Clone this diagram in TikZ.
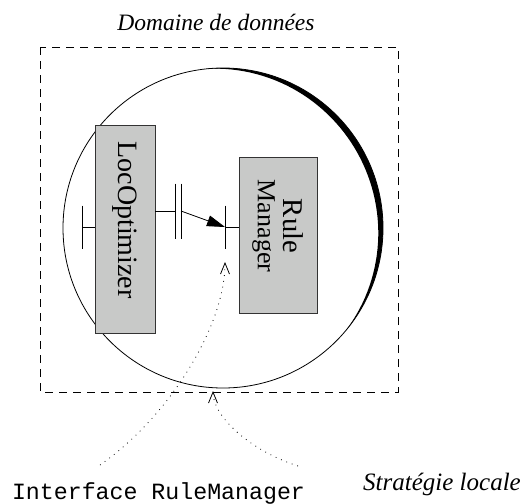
\documentclass[tikz,border=0pt]{standalone}
\usepackage{fontspec}
\setmainfont{Liberation Serif}
\setmonofont{Liberation Mono}
\usepackage{tikz}
\usetikzlibrary{arrows.meta}
\usetikzlibrary{positioning}
\usetikzlibrary{calc}

\definecolor{boxgray}{RGB}{200,201,200}

\begin{document}
\begin{tikzpicture}[x=1pt, y=-1pt, line width=0.8pt,
    compbox/.style={rectangle, draw=black!80, fill=boxgray, inner sep=0pt},
    compname/.style={rotate=-90, inner sep=0pt},
    hint/.style={dash pattern=on 0.8pt off 5pt, -{Straight Barb[length=11pt, width=9pt]}}]

        \useasboundingbox (0,0) rectangle (523,504);

        % Centre and radius of the domain circle
        \def\cx{223}
        \def\cy{228}
        \def\rad{160}

        % Dashed frame of the data domain
        \draw[dash pattern=on 8pt off 6pt] (40,47) rectangle (398,392);
        \node[anchor=base, font=\fontsize{23.5}{28}\selectfont\itshape] (domaine) at (216,30) {Domaine de données};

        % Domain circle and its thick right rim
        \node[circle, draw, minimum size=320pt, inner sep=0pt] (dom) at (\cx,\cy) {};
        \fill plot[domain=96:-40, samples=60] ({\cx+\rad*cos(\x)}, {\cy-\rad*sin(\x)})
          -- plot[domain=-40:96, samples=60] ({\cx+(\rad-6*sin((\x+40)/136*180))*cos(\x)}, {\cy-(\rad-6*sin((\x+40)/136*180))*sin(\x)})
          -- cycle;

        % Components
        \node[compbox, minimum width=60pt, minimum height=208pt] (loc) at (125,229) {};
        \node[compname, font=\fontsize{28}{30}\selectfont] (loc-txt) at ([yshift=9pt]loc.center) {LocOptimizer};
        \node[compbox, minimum width=78pt, minimum height=156pt] (rm) at (278,235) {};
        \node[compname, align=center, font=\fontsize{26}{26}\selectfont] (rm-txt) at ([yshift=9pt]rm.center)
          {{\fontsize{28.6}{26}\selectfont Rule}\\Manager};

        % Provided interface on the left
        \coordinate (prov) at (82,227);
        \draw (loc.west |- prov) -- (prov);
        \draw ([yshift=21.5pt]prov) -- ([yshift=-21.5pt]prov);

        % Assembly towards the RuleManager
        \coordinate (asm) at (178,211);
        \coordinate (sock) at (225,227);
        \draw (loc.east |- asm) -- ([xshift=-3pt]asm);
        \draw ([xshift=-3pt, yshift=27.5pt]asm) -- ([xshift=-3pt, yshift=-27.5pt]asm);
        \draw ([xshift=3pt, yshift=27.5pt]asm) -- ([xshift=3pt, yshift=-27.5pt]asm);
        \draw[-{Triangle[length=18pt, width=11pt]}] ([xshift=3pt]asm) -- (sock);
        \draw ([yshift=21.5pt]sock) -- ([yshift=-21.5pt]sock);
        \draw (sock) -- (rm.west |- sock);

        % Labels at the bottom and their dotted pointers
        \node[anchor=base, font=\fontsize{23.25}{28}\selectfont\ttfamily] (iface) at (158.5,499) {Interface RuleManager};
        \node[anchor=base, font=\fontsize{25}{30}\selectfont\itshape] (strat) at (442,490) {Stratégie locale};
        \coordinate (iface-end) at (100,465);
        \coordinate (strat-end) at (298,466);
        \coordinate (dom-foot) at (213,391);
        \draw[hint] (iface-end) .. controls (169,417) and (225,326) .. ([yshift=-35pt]sock);
        \draw[hint] (strat-end) .. controls (251,451) and (213,417) .. (dom-foot);

      \end{tikzpicture}
\end{document}
